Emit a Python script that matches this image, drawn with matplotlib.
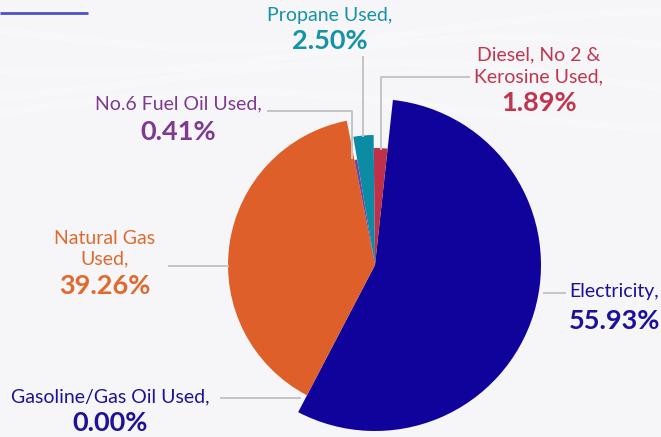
import numpy as np
import matplotlib.pyplot as plt

# data
labels = ["Electricity", "Gasoline/Gas Oil Used", "Natural Gas Used",
          "No.6 Fuel Oil Used", "Propane Used", "Diesel, No 2 & Kerosine Used"]
values = [55.93, 0.00, 39.26, 0.41, 2.50, 1.89]

slice_colors = ["#10039c", "#10039c", "#de5f29", "#7b3f98", "#0b8ba4", "#bf3049"]
text_colors = ["#1b0f9e", "#1d1399", "#e06a2e", "#7e3a90", "#1492a6", "#c2354f"]
radii = [166, 0, 147, 107, 130, 117]   # variable radius pie

W, H = 661, 437
plt.rcParams['font.family'] = ['Lato', 'DejaVu Sans']

fig = plt.figure(figsize=(W / 100, H / 100), dpi=100)
fig.patch.set_facecolor("#f6f6f8")
ax = fig.add_axes([0, 0, 1, 1])
ax.set_facecolor("#f6f6f8")

# faint background streaks
xs = np.linspace(0, W, 200)
for k, a in enumerate([30, 55, 80, 110]):
    ax.plot(xs, H - (a + 18 * np.sin(xs / 140 + k)), color="white", lw=5, alpha=0.3, zorder=0)

cx, cy = 375, H - 265
wedges, _ = ax.pie(values, colors=slice_colors, startangle=83.8, counterclock=False,
                   center=(cx, cy), radius=1, wedgeprops=dict(linewidth=0))
for w, r in zip(wedges, radii):
    w.set_radius(r)

ax.set_xlim(0, W)
ax.set_ylim(0, H)
ax.set_aspect("equal")
ax.axis("off")

# top-left accent line
ax.plot([0, 88], [H - 12.5, H - 12.5], color="#5050c8", lw=2, solid_capstyle="butt")

lc = "#c4c4c4"
def leader(px, py):
    ax.plot(px, [H - y for y in py], color=lc, lw=1.4, zorder=1)

def label(x, y_lines, y_pct, lines, pct, color, ha="center"):
    for yy, t in zip(y_lines, lines):
        ax.text(x, H - yy, t, color=color, fontsize=14, ha=ha, va="center")
    ax.text(x, H - y_pct, pct, color=color, fontsize=19.5, fontweight="bold", ha=ha, va="center")

# Electricity
leader([544, 565], [293, 293])
label(614, [292], 321, ["Electricity,"], f"{values[0]:.2f}%", text_colors[0])
# Gasoline
leader([221, 300], [398, 398])
label(110, [397], 423, ["Gasoline/Gas Oil Used,"], f"{values[1]:.2f}%", text_colors[1])
# Natural gas
leader([169, 228], [266, 266])
label(105, [238, 259], 286, ["Natural Gas", "Used,"], f"{values[2]:.2f}%", text_colors[2])
# No.6
leader([268, 352, 352], [111, 111, 158])
label(178, [104], 132, ["No.6 Fuel Oil Used,"], f"{values[3]:.2f}%", text_colors[3])
# Propane
leader([363, 363], [57, 136])
label(330, [15], 41, ["Propane Used,"], f"{values[4]:.2f}%", text_colors[4])
# Diesel
leader([469, 381, 381], [77, 77, 149])
label(539, [55, 77], 103, ["Diesel, No 2 &", "Kerosine Used,"], f"{values[5]:.2f}%", text_colors[5])

fig.savefig("out.png", dpi=100, facecolor=fig.get_facecolor())
